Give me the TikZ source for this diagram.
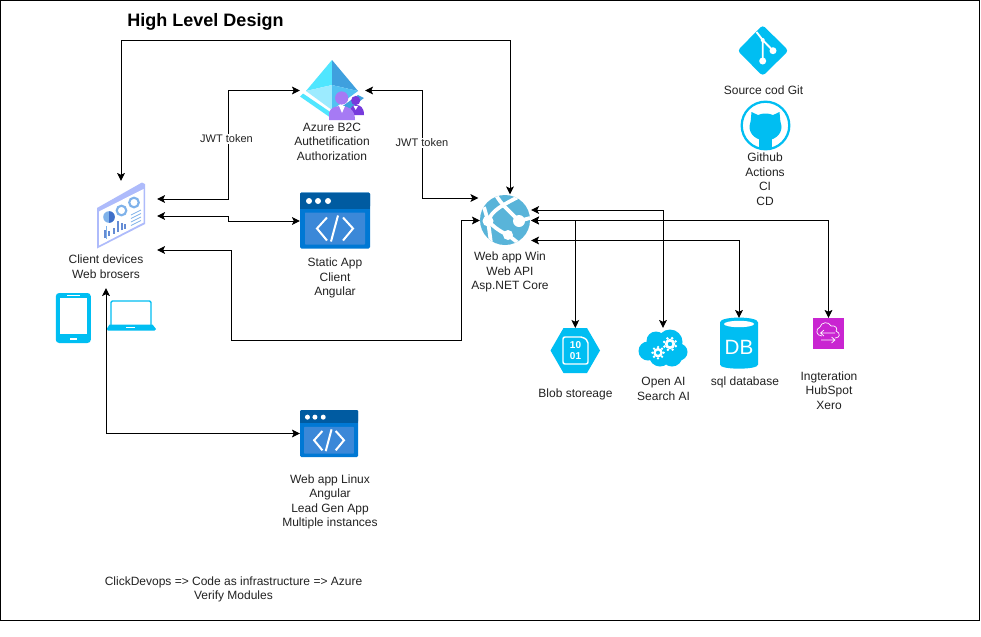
\documentclass[tikz,border=0pt]{standalone}
\usepackage{fontspec}
\setmainfont{Liberation Sans}
\usetikzlibrary{arrows.meta,calc}
\definecolor{skyb}{HTML}{00BEF2}
\definecolor{inkc}{HTML}{222222}
\definecolor{codeb}{HTML}{0078D4}
\definecolor{codeh}{HTML}{005BA1}
\definecolor{codei}{HTML}{3B88D8}
\definecolor{tabl}{HTML}{AEBBFB}
\definecolor{tabd}{HTML}{3F6FC9}
\definecolor{tabm}{HTML}{7FB2EA}
\definecolor{azl}{HTML}{50E6FF}
\definecolor{azm}{HTML}{9CEBFF}
\definecolor{azr}{HTML}{3FA0DE}
\definecolor{azs}{HTML}{52C1F2}
\definecolor{pbig}{HTML}{A67AF4}
\definecolor{psm}{HTML}{773ADC}
\definecolor{webb}{HTML}{59B4D9}
\definecolor{integc}{HTML}{C925D1}
\tikzset{
  conn/.style={line width=0.75pt,draw=black,{Stealth[length=6pt,width=5.8pt,inset=1.3pt]}-{Stealth[length=6pt,width=5.8pt,inset=1.3pt]}},
  iconbox/.style={inner sep=0pt,outer sep=0pt,draw=none,fill=none},
  txt/.style={align=center,inner sep=0pt,outer sep=0pt,text=inkc,font={\fontsize{9}{10.9}\selectfont}},
  jwt/.style={align=center,inner sep=1pt,fill=white,text=inkc,font={\fontsize{8.25}{10}\selectfont}},
  titletxt/.style={inner sep=0pt,font={\fontsize{13.5}{16}\selectfont\bfseries},text=black},
  glyph/.style={inner sep=0pt,text=white,font={\fontsize{7.5}{8}\selectfont\bfseries}}
}
\newcommand\gearicon[4]{%
  \fill[white] (#1,#2) circle (#3);
  \foreach \a in {0,45,...,315}{\fill[white] ({#1+#3*1.18*cos(\a+#4)},{#2+#3*1.18*sin(\a+#4)}) circle ({#3*0.27});}
  \fill[skyb] (#1,#2) circle ({#3*0.42});}
\newcommand\codeicon[4]{%
  \begin{scope}[shift={(#1,#2)},xscale=#3,yscale=#4]
    \fill[rounded corners=1pt,fill=codeb] (0,0) rectangle (70,56);
    \fill[rounded corners=1pt,fill=codeh] (0,0) rectangle (70,15);
    \fill[fill=codeh] (0,12) rectangle (70,16);
    \fill[rounded corners=0.5pt,fill=codei] (5,20) rectangle (65,52);
    \foreach \dx in {9,18,28}{\fill[white] (\dx,8.5) circle (3);}
    \draw[white,line width=1.5pt] (27,25) -- (17,36) -- (27,48);
    \draw[white,line width=1.5pt] (43,25) -- (53,36) -- (43,48);
    \draw[white,line width=1.5pt] (38,23) -- (31,49);
  \end{scope}}
\begin{document}
\begin{tikzpicture}[x=0.75pt,y=-0.75pt]
\useasboundingbox (0,0) rectangle (981,636);
\fill[white] (0,0) rectangle (981,636);
\draw[line width=0.9pt,black] (0.5,0.5) rectangle (979.5,620.5);

% ---- anchor boxes of the icons
\node[iconbox,minimum width=54pt,minimum height=51.75pt] (client) at (121,215.5) {};
\node[iconbox,minimum width=48.75pt,minimum height=45.75pt] (azure) at (332.5,90.5) {};
\node[iconbox,minimum width=52.5pt,minimum height=42pt] (static) at (335,221) {};
\node[iconbox,minimum width=43.5pt,minimum height=35.25pt] (linux) at (329,433.5) {};
\node[iconbox,minimum width=38.25pt,minimum height=38.25pt] (webapp) at (505.5,220.5) {};
\node[iconbox,minimum width=37.5pt,minimum height=33.75pt] (blob) at (575.3,350.5) {};
\node[iconbox,minimum width=37.5pt,minimum height=29.25pt] (cloud) at (663,347.5) {};
\node[iconbox,minimum width=28.5pt,minimum height=37.5pt] (db) at (739,343) {};
\node[iconbox,minimum width=23.25pt,minimum height=23.25pt] (integ) at (828.5,333.5) {};
\node[iconbox,minimum width=37.5pt,minimum height=37.5pt] (git) at (762.7,50.7) {};
\node[iconbox,minimum width=37.5pt,minimum height=37.5pt] (github) at (765.5,125.5) {};
\node[iconbox,minimum width=26.25pt,minimum height=37.5pt] (phone) at (73.3,318) {};
\node[iconbox,minimum width=37pt,minimum height=22.5pt] (laptop) at (131.3,315.7) {};

% ---- client dashboard
\fill[tabl] (97,208) -- (142,182.5) -- (145,184) -- (145,224) -- (97,248.5) -- cycle;
\fill[white] (99,211.5) -- (143.5,189) -- (143.5,222.5) -- (99,245.5) -- cycle;
\fill[tabm] (109,217) circle (5.8);
\fill[tabd] (109,211.2) arc (-90:90:5.8) -- cycle;
\draw[tabm,line width=1.6pt] (121.5,210.5) circle (4.8);
\draw[tabm,line width=1.6pt] (134,202.5) circle (4.8);
\foreach \px/\ph in {105/8,109/5,114/6,118/11,122/7,125/5}{\draw[tabd!80,line width=1pt] (\px,{238-(\px-105)*0.45}) -- (\px,{238-(\px-105)*0.45-\ph});}
\foreach \ly in {0,3.5,7,10.5}{\draw[tabm,line width=0.6pt] (131,{215+\ly}) -- (141,{210+\ly});}
\draw[tabm,line width=0.6pt] (106,226) -- (106,239);

% ---- Azure B2C
\fill[azl] (332,60) -- (306,91) -- (332,85) -- cycle;
\fill[azr] (332,60) -- (358,91) -- (332,85) -- cycle;
\fill[azm] (306,91) -- (332,85) -- (332,110) -- cycle;
\fill[azs] (358,91) -- (332,85) -- (332,110) -- cycle;
\fill[azl] (300,96.5) -- (303,93.5) -- (331,112.5) -- (331,118) -- cycle;
\fill[azr] (358,95) -- (364,98) -- (345,112) -- (340,108) -- cycle;
\fill[psm] (350,115) -- (350,109) .. controls (351,106) and (354,105) .. (356,105) .. controls (360,105) and (364,107) .. (364,115) -- cycle;
\fill[psm] (355.7,100.5) circle (4.6);
\fill[white] (353.5,106) -- (358,106) -- (355.7,110) -- cycle;
\fill[pbig] (329,120) -- (329,113) .. controls (330,108) and (335,106) .. (341,106) .. controls (348,106) and (355,109) .. (355,120) -- cycle;
\fill[pbig] (341.7,98) circle (6.6);
\fill[white] (339,106) -- (345,106) -- (342,113) -- cycle;

% ---- code windows
\codeicon{300}{192.5}{1}{1}
\codeicon{300}{410}{0.83}{0.84}

% ---- web app
\fill[webb] (505,220) circle (25);
\begin{scope}
  \clip (505,220) circle (25);
  \draw[white,line width=2.8pt] (496,195) .. controls (501,204) and (508,210) .. (519,221);
  \draw[white,line width=2.8pt] (488,221) .. controls (492,210) and (503,205) .. (518,197);
  \draw[white,line width=2.8pt] (484,207) -- (488,221) -- (491,243);
  \draw[white,line width=2.8pt] (488,221) .. controls (495,228) and (501,232) .. (508,235) -- (522,246);
  \fill[white] (488,221) circle (5.5);
  \fill[white] (519,221) circle (6);
  \fill[white] (508,235) circle (5);
  \draw[white,line width=2.8pt] (519,221) -- (530,218);
\end{scope}

% ---- blob
\fill[skyb] (550.5,350.5) -- (563.5,328) -- (587,328) -- (600,350.5) -- (587,373) -- (563.5,373) -- cycle;
\draw[white,line width=1.1pt,rounded corners=1.5pt] (563,337) -- (583,337) -- (588,341) -- (588,364) -- (563,364) -- cycle;
\node[glyph] (blobA) at (575.5,345.5) {10};
\node[glyph] (blobB) at (575.5,356) {01};

% ---- cloud
\fill[skyb] (648,351) circle (9.5) (656,341) circle (9.5) (670,342) circle (12.5) (679,352) circle (8.5) (660,355.5) circle (11) (672,356) circle (10.5);
\gearicon{658}{352.7}{4.8}{0}
\gearicon{670}{344}{5.2}{20}

% ---- database
\fill[skyb,rounded corners=2pt] (720,325) -- (720,362) .. controls (720,370) and (758,370) .. (758,362) -- (758,325) .. controls (758,316) and (720,316) .. (720,325) -- cycle;
\fill[white] (739,324) ellipse (15 and 3.2);
\node[inner sep=0pt,text=white,font={\fontsize{15.5}{16}\selectfont}] (dbt) at (739,347) {DB};

% ---- integration
\fill[integc] (integ.south west) rectangle (integ.north east);
\draw[white,line width=0.5pt,line join=round] (822,336) .. controls (816,336) and (815,329) .. (820,327) .. controls (821,322) and (829,321) .. (831,326) .. controls (836,325) and (838,329) .. (836,331) .. controls (841,333) and (840,338) .. (835,338);
\draw[white,line width=0.5pt] (821,333) -- (835,333) (824,330) -- (820.5,333) -- (824,336);
\draw[white,line width=0.5pt] (821,340) -- (835,340) (831.5,337) -- (835,340) -- (831.5,343);

% ---- git
\fill[skyb,rounded corners=2.5pt] (762.7,25) -- (788.5,50.7) -- (762.7,76) -- (737.5,50.7) -- cycle;
\draw[white,line width=1.4pt] (756.5,32) -- (762.7,40) -- (762.7,61) (762.7,40) -- (773,50.7);
\fill[white] (762.7,61) circle (3.5) (773,50.7) circle (3.5) (762.7,40) circle (2);

% ---- github
\draw[skyb,line width=1.7pt] (github.center) circle (23.8);
\fill[skyb] (765.5,127) ellipse (16 and 13.5);
\fill[skyb] (750.5,123) -- (751.5,112) -- (760,116) -- (771,116) -- (779.5,112) -- (780.5,123) -- cycle;
\fill[skyb] (759,136) rectangle (772,148.5);

% ---- phone and laptop
\fill[skyb,rounded corners=2.5pt] (phone.south west) rectangle (phone.north east);
\fill[white] (59.5,298) rectangle (87.3,334);
\fill[white] (66.7,294.7) rectangle (80,296.3);
\fill[white] (70,338) rectangle (77.3,339.7);
\draw[skyb,line width=1pt,rounded corners=1pt] (111,325) -- (111,301) -- (151,301) -- (151,325);
\fill[skyb] (109.5,324.5) -- (152.5,324.5) -- (156,329) -- (154.5,330.7) -- (108,330.7) -- (106.7,329) -- cycle;
\fill[white] (126,326.7) rectangle (135,328.4);

% ---- texts
\node[titletxt] (title) at (205.5,21.5) {High Level Design};
\node[txt] (azuret) at (332,141.7) {Azure B2C\\Authetification\\Authorization};
\node[txt] (statict) at (335,278) {Static App\\Client\\Angular};
\node[txt,minimum height=32.25pt] (clientt) at (106,266.5) {Client devices\\Web brosers};
\node[txt] (webt) at (510,272.2) {Web app Win\\Web API\\Asp.NET Core};
\node[txt] (blobt) at (575.5,394) {Blob storeage};
\node[txt] (cloudt) at (663.5,389) {Open AI\\Search AI};
\node[txt] (dbtx) at (745,382.5) {sql database};
\node[txt] (integt) at (829,390.5) {Ingteration\\HubSpot\\Xero};
\node[txt] (gitt) at (763.5,90) {Source cod Git};
\node[txt] (githubt) at (765,179) {Github\\Actions\\CI\\CD};
\node[txt] (linuxt) at (330,501.8) {Web app Linux\\Angular\\Lead Gen App\\Multiple instances};
\node[txt] (clickt) at (233.5,589.5) {ClickDevops => Code as infrastructure => Azure\\Verify Modules};

% ---- connector bends
\coordinate (topbend) at (300,40.5);
\coordinate (jwtL) at (228,90.5);
\coordinate (jwtR) at (422,198);
\coordinate (staticbend) at (228,221);
\coordinate (busA) at (231,340);
\coordinate (busB) at (461,220.5);

% ---- connectors
\draw[conn] ($(webapp.north)+(4.5,-0.5)$) |- (topbend) -| (client.north);
\draw[conn] ($(client.east)+(0,-16.5)$) -| (jwtL) -- (azure.west);
\draw[conn] ($(client.east)+(0,0.5)$) -| (staticbend) -- (static.west);
\draw[conn] ($(client.east)+(0,34.5)$) -| (busA) -| (busB) -- (webapp.west);
\draw[conn] (azure.east) -| (jwtR) -- ($(webapp.west)+(-1.5,-22.5)$);
\draw[conn] ($(webapp.east)+(0,-10.5)$) -| (cloud.north);
\draw[conn] (webapp.east) -| (blob.north);
\draw[conn] ($(webapp.east)+(0,20)$) -| (db.north);
\draw[conn] (webapp.east) -| (integ.north);
\draw[conn] (linux.west) -| (clientt.south);

% ---- connector labels
\node[jwt] (jwta) at (226.5,139) {JWT token};
\node[jwt] (jwtb) at (422,143) {JWT token};
\end{tikzpicture}
\end{document}
